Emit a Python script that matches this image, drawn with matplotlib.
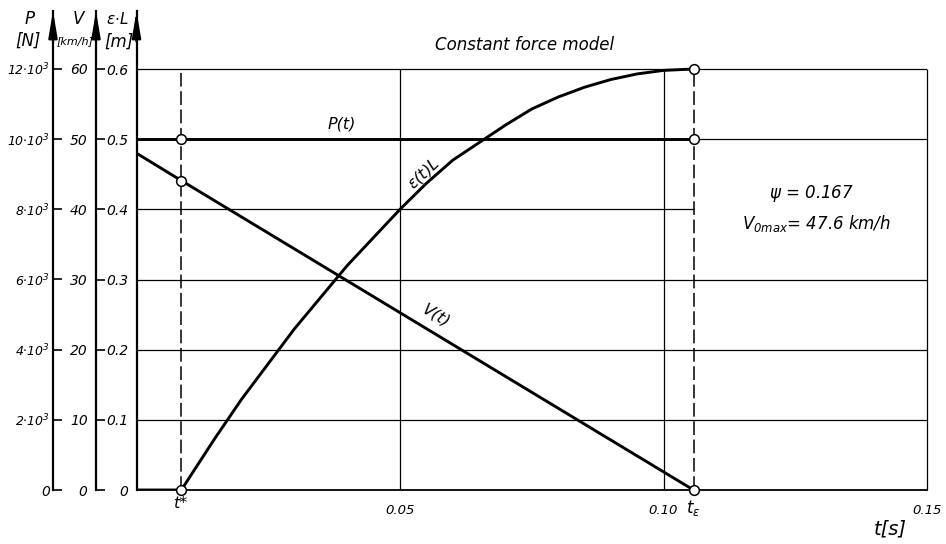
import matplotlib
matplotlib.use("Agg")
import matplotlib.pyplot as plt
from matplotlib import font_manager
from matplotlib.transforms import ScaledTranslation, blended_transform_factory

# --- data ---
t_star = 0.0085    # s, start of deformation
t_eps = 0.1057     # s, end of deformation

# epsilon(t)*L  [m]
eps_t = [0.0, 0.0085, 0.015, 0.020, 0.025, 0.030, 0.035, 0.040, 0.045, 0.050,
         0.055, 0.060, 0.065, 0.070, 0.075, 0.080, 0.085, 0.090, 0.095, 0.100, 0.1057]
eps_L = [0.0, 0.0, 0.075, 0.130, 0.180, 0.230, 0.275, 0.320, 0.360, 0.400,
         0.437, 0.470, 0.495, 0.520, 0.543, 0.560, 0.574, 0.585, 0.593, 0.598, 0.600]

# V(t) [km/h]
v_t = [0.0, t_star, t_eps]
v_kmh = [48.0, 44.1, 0.0]

# P(t) [N]
p_t = [0.0, t_star, t_eps]
p_N = [10000, 10000, 10000]

eps_ticks = [0, 0.1, 0.2, 0.3, 0.4, 0.5, 0.6]
eps_labels = ["0", "0.1", "0.2", "0.3", "0.4", "0.5", "0.6"]
v_ticks = [0, 10, 20, 30, 40, 50, 60]
p_ticks = [0, 2000, 4000, 6000, 8000, 10000, 12000]
p_labels = ["0"] + [r"$%d{\cdot}10^3$" % (p // 1000) for p in p_ticks[1:]]
t_ticks = [0.05, 0.10, 0.15]
t_labels = ["0.05", "0.10", "0.15"]

# font: narrow italic lettering if we have it
names = {f.name for f in font_manager.fontManager.ttflist}
base = "Liberation Sans Narrow" if "Liberation Sans Narrow" in names else "DejaVu Sans"
plt.rcParams["font.family"] = [base, "DejaVu Sans"]
plt.rcParams["font.style"] = "italic"
plt.rcParams["mathtext.fontset"] = "custom"
plt.rcParams["mathtext.rm"] = base + ":italic"
plt.rcParams["mathtext.it"] = base + ":italic"
plt.rcParams["mathtext.sf"] = base + ":italic"

W, H = 946, 544
fig = plt.figure(figsize=(W / 100, H / 100), dpi=100)
x0, x1, y0, y1 = 136.5, 927, 490, 11
ax = fig.add_axes([x0 / W, (H - y0) / H, (x1 - x0) / W, (y0 - y1) / H])
ymax = 0.6 * (y0 - y1) / (y0 - 69)
ax.set_xlim(0, 0.15)
ax.set_ylim(0, ymax)

ax_v = ax.twinx()
ax_v.set_ylim(0, ymax * 100)
ax_p = ax.twinx()
ax_p.set_ylim(0, ymax * 20000)

for a in (ax, ax_v, ax_p):
    for s in ("top", "right"):
        a.spines[s].set_visible(False)
for a in (ax_v, ax_p):
    a.spines["bottom"].set_visible(False)
    a.spines["left"].set_visible(True)
    a.yaxis.set_ticks_position("left")
    a.yaxis.set_label_position("left")
ax.spines["left"].set_linewidth(1.6)
ax.spines["bottom"].set_linewidth(1.3)

off_v = 40.5   # px outward
off_p = 83.5
ax_v.spines["left"].set_position(("outward", off_v * 72 / 100))
ax_p.spines["left"].set_position(("outward", off_p * 72 / 100))
for a in (ax_v, ax_p):
    a.spines["left"].set_linewidth(1.6)

# tick labels
ax.set_yticks(eps_ticks, eps_labels)
ax.tick_params(axis="y", direction="in", length=0, pad=6, labelsize=10)
ax_v.set_yticks(v_ticks, [str(v) for v in v_ticks])
ax_v.tick_params(axis="y", direction="in", length=6.5, width=1.2, pad=6, labelsize=10)
ax_p.set_yticks(p_ticks, p_labels)
ax_p.tick_params(axis="y", direction="in", length=6.5, width=1.2, pad=2, labelsize=9)
ax_p.get_yticklabels()[0].set_fontsize(10)
ax.set_xticks(t_ticks, t_labels)
ax.tick_params(axis="x", length=0, pad=10, labelsize=9.5)

# arrow heads on the three vertical scales
for off in (0, off_v, off_p):
    tr = ax.transAxes + ScaledTranslation(-off / 100, 0, fig.dpi_scale_trans)
    ax.annotate("", xy=(0, 1), xycoords=tr, xytext=(0, -22), textcoords="offset points",
                arrowprops=dict(arrowstyle="-|>,head_length=1.3,head_width=0.22",
                                lw=1.6, color="k", mutation_scale=12,
                                shrinkA=0, shrinkB=0), annotation_clip=False)

# grid
grid_kw = dict(color="k", lw=0.9, zorder=1)
ax.hlines([0.1, 0.2, 0.3, 0.5, 0.6], 0, 0.15, **grid_kw)
ax.hlines([0.4], 0, t_eps, **grid_kw)
ax.vlines([0.05, 0.10], 0, 0.6, **grid_kw)
ax.vlines([0.15], 0, 0.6, clip_on=False, **grid_kw)
ax.vlines([t_star, t_eps], 0, 0.6, color="k", lw=1.1, linestyles=(0, (9, 3)), zorder=2)

# curves
line_kw = dict(color="k", lw=2.1, solid_capstyle="butt", zorder=3)
ax.plot(eps_t, eps_L, **line_kw)
ax_v.plot(v_t, v_kmh, **line_kw)
ax_p.plot(p_t, p_N, **line_kw)

mk = dict(marker="o", ms=7, mfc="white", mec="k", mew=1.1, ls="none", zorder=6, clip_on=False)
ax.plot([t_star, t_eps], [eps_L[1], eps_L[-1]], **mk)
ax_v.plot([t_star, t_eps], [v_kmh[1], v_kmh[-1]], **mk)
ax_p.plot([t_star, t_eps], [p_N[1], p_N[-1]], **mk)

# labels on curves
ax.text(0.039, 0.521, "P(t)", fontsize=11.5, ha="center", va="center")
ax.text(0.0545, 0.451, r"$\varepsilon$(t)L", fontsize=11.5, rotation=43, ha="center", va="center")
ax.text(0.0569, 0.248, "V(t)", fontsize=11.5, rotation=-31, ha="center", va="center")

# t* and t_eps under the axis
bt = blended_transform_factory(ax.transData, ax.transAxes)
ax.text(t_star, -0.028, "t*", transform=bt, fontsize=11.5, ha="center", va="center")
ax.text(t_eps, -0.037, r"$t_\varepsilon$", transform=bt, fontsize=12, ha="center", va="center")

# parameter box
ax.text(0.1280, 0.422, r"$\psi$ = 0.167", fontsize=12, ha="center", va="center")
ax.text(0.1290, 0.380, r"$V_{0max}$= 47.6 km/h", fontsize=12, ha="center", va="center")

# headings
def ftxt(x, y, s, **kw):
    fig.text(x / W, 1 - y / H, s, ha="center", va="center", **kw)

ftxt(525, 45, "Constant force model", fontsize=12)
ftxt(30, 19, "P", fontsize=12)
ftxt(28, 41, "[N]", fontsize=12)
ftxt(78, 19, "V", fontsize=12)
ftxt(75, 41, "[km/h]", fontsize=8)
ftxt(117, 19, r"$\varepsilon{\cdot}$L", fontsize=11)
ftxt(119, 42, "[m]", fontsize=12)
ftxt(890, 529, "t[s]", fontsize=14)

fig.savefig("out.png", dpi=100)
